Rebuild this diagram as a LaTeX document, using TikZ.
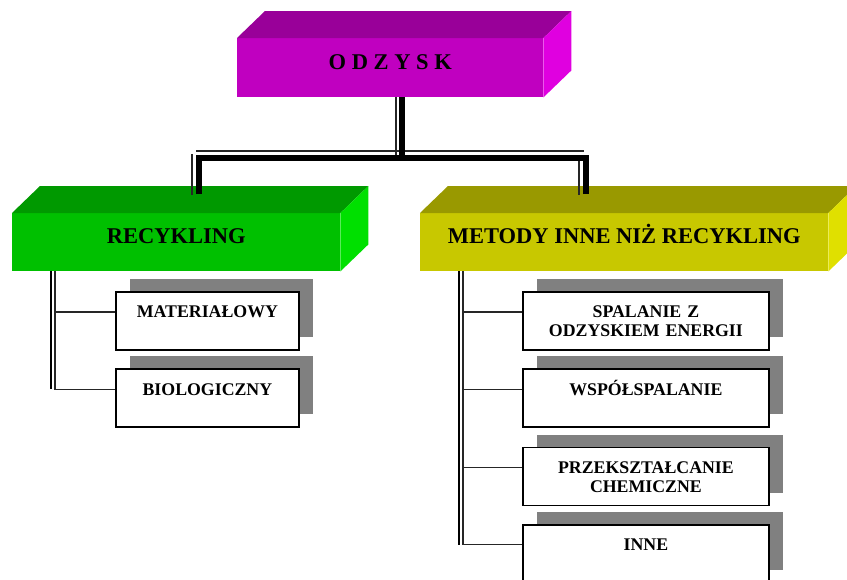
\documentclass[tikz,border=0pt]{standalone}
\usepackage{fontspec}
\setmainfont{Liberation Serif}
\usepackage{xcolor}
\usepackage{tikz}
\usetikzlibrary{positioning,shadows}

\definecolor{odzyskfront}{RGB}{192,0,192}
\definecolor{odzysktop}{RGB}{153,0,153}
\definecolor{odzyskside}{RGB}{224,0,224}
\definecolor{recfront}{RGB}{0,192,0}
\definecolor{rectop}{RGB}{0,153,0}
\definecolor{recside}{RGB}{0,224,0}
\definecolor{metfront}{RGB}{200,200,0}
\definecolor{mettop}{RGB}{153,153,0}
\definecolor{metside}{RGB}{224,224,0}

% top and right face of a block
\newcommand{\boxsides}[3]{%
  \fill[#2] (#1.north west) -- ++(28pt,27pt) -- ([shift={(28pt,27pt)}]#1.north east) -- (#1.north east) -- cycle;
  \fill[#3] (#1.north east) -- ++(28pt,27pt) -- ([shift={(28pt,27pt)}]#1.south east) -- (#1.south east) -- cycle;
}

\begin{document}
\begin{tikzpicture}[x=1pt,y=-1pt,
    front/.style={anchor=north west,inner sep=0pt,minimum height=58pt,text height=15pt,text depth=12pt,
        font=\fontsize{22.5}{27}\selectfont\bfseries},
    method/.style={draw=black,line width=1.8pt,fill=white,inner sep=0pt,align=center,
        text height=26pt,text depth=32pt,font=\fontsize{17.8}{19}\selectfont\bfseries,
        drop shadow={shadow xshift=14pt,shadow yshift=13pt,fill=black!50,opacity=1}},
    trunk/.style={line width=6.5pt,line join=miter},
    pair/.style={line width=1.3pt,black!85},
    spine/.style={line width=2.6pt},
    branch/.style={line width=1.3pt,black!85}]
            \useasboundingbox (0,0) rectangle (847,579);
            \clip (0,0) rectangle (847,579);

            \node[front,fill=odzyskfront,minimum width=306pt,minimum height=59pt] (odzysk) at (237,38) {O D Z Y S K};
            \boxsides{odzysk}{odzysktop}{odzyskside}
            \node[front,fill=recfront,minimum width=328pt] (recykling) at (12,213) {RECYKLING};
            \boxsides{recykling}{rectop}{recside}
            \node[front,fill=metfront,minimum width=408pt] (metody) at (420,213) {METODY INNE NIŻ RECYKLING};
            \boxsides{metody}{mettop}{metside}

            \node[method,text width=183pt,anchor=north west] (material) at (115,291) {MATERIAŁOWY};
            \node[method,text width=183pt,below=17.5pt of material] (bio) {BIOLOGICZNY};

            \node[method,text width=246pt,anchor=north west] (spalanie) at (522,291) {SPALANIE Z\\ODZYSKIEM ENERGII};
            \node[method,text width=246pt,below=17.5pt of spalanie] (wspol) {WSPÓŁSPALANIE};
            \node[method,text width=246pt,below=18.5pt of wspol] (przeks) {PRZEKSZTAŁCANIE\\CHEMICZNE};
            \node[method,text width=246pt,below=17.5pt of przeks] (inne) {INNE};

            % main double line
            \coordinate (hub) at (402,158);
            \coordinate (lfoot) at (199,194);
            \coordinate (rfoot) at (586,194);
            \coordinate (drop) at (odzysk.south -| hub);
            \coordinate (lknee) at (lfoot |- hub);
            \coordinate (rknee) at (rfoot |- hub);
            \draw[pair] ([xshift=-6pt]drop) -- ([shift={(-6pt,3pt)}]hub);
            \draw[pair] ([shift={(-3pt,7pt)}]lknee) -- ([shift={(-2pt,7pt)}]rknee);
            \draw[pair] ([shift={(-7pt,4pt)}]lknee) -- ([shift={(-7pt,-1pt)}]lfoot);
            \draw[pair] ([shift={(-7pt,3pt)}]rknee) -- ([shift={(-7pt,-1pt)}]rfoot);
            \draw[trunk] (drop) -- (hub);
            \draw[trunk] (lfoot) -- (lknee) -- (rknee) -- (rfoot);

            % branches
            \coordinate (lspine) at ([xshift=39pt]recykling.south west);
            \coordinate (lpair) at ([xshift=43pt]recykling.south west);
            \coordinate (lend) at ([yshift=9pt]bio.west);
            \draw[spine] (lspine) -- (lspine |- lend);
            \foreach \c in {material,bio}
                \draw[branch] ([yshift=9pt]\c.west) -| (lpair);

            \coordinate (rspine) at ([xshift=39pt]metody.south west);
            \coordinate (rpair) at ([xshift=43pt]metody.south west);
            \coordinate (rend) at ([yshift=9pt]inne.west);
            \draw[spine] (rspine) -- (rspine |- rend);
            \foreach \c in {spalanie,wspol,przeks,inne}
                \draw[branch] ([yshift=9pt]\c.west) -| (rpair);
        \end{tikzpicture}
\end{document}
